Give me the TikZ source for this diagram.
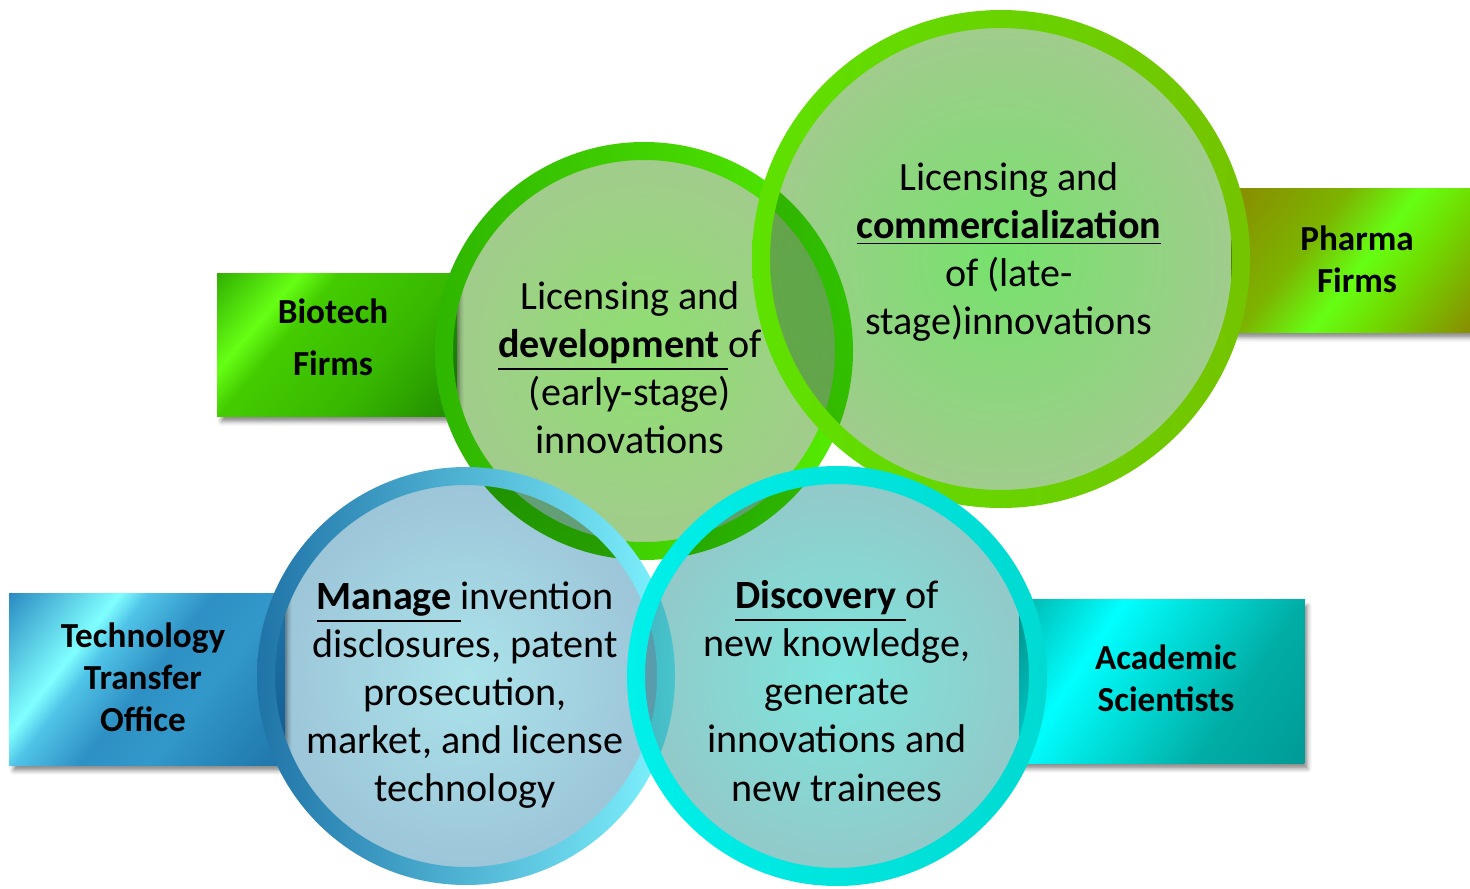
\documentclass[tikz,border=0pt]{standalone}
\usepackage{fontspec}
\setmainfont{Carlito}
\usetikzlibrary{shadows.blur}

% bubble colours
\definecolor{devIn}{HTML}{8EDF70}
\definecolor{devOut}{HTML}{A3CB8E}
\definecolor{devRingA}{HTML}{2EB600}
\definecolor{devRingB}{HTML}{55EC00}
\definecolor{comIn}{HTML}{76E26C}
\definecolor{comOut}{HTML}{A2CB8E}
\definecolor{comRingA}{HTML}{5EE200}
\definecolor{comRingB}{HTML}{74C400}
\definecolor{manIn}{HTML}{ABE3EA}
\definecolor{manOut}{HTML}{9CC4D8}
\definecolor{manRingA}{HTML}{2074A8}
\definecolor{manRingB}{HTML}{80F4FF}
\definecolor{disIn}{HTML}{7EE6DE}
\definecolor{disOut}{HTML}{92C8C8}
\definecolor{disRingA}{HTML}{00F0EA}
\definecolor{disRingB}{HTML}{00DAD2}

% firm box colours
\definecolor{bioA}{HTML}{30AC00}
\definecolor{bioB}{HTML}{66FF14}
\definecolor{bioC}{HTML}{44CC00}
\definecolor{bioD}{HTML}{38B800}
\definecolor{bioE}{HTML}{1F8A00}
\definecolor{phaA}{HTML}{8A8A00}
\definecolor{phaB}{HTML}{7CB400}
\definecolor{phaC}{HTML}{66FF14}
\definecolor{phaD}{HTML}{70DC00}
\definecolor{ttoA}{HTML}{2A8AC2}
\definecolor{ttoB}{HTML}{80FFFF}
\definecolor{ttoC}{HTML}{50C4E8}
\definecolor{ttoD}{HTML}{2E90C4}
\definecolor{ttoE}{HTML}{3298CA}
\definecolor{ttoF}{HTML}{1E74A8}
\definecolor{acaA}{HTML}{00B4AC}
\definecolor{acaB}{HTML}{00FFFF}
\definecolor{acaC}{HTML}{00E0DC}
\definecolor{acaD}{HTML}{00AEA6}
\definecolor{acaE}{HTML}{009A96}

\pgfdeclarehorizontalshading{bioShade}{100bp}{color(0bp)=(bioA); color(25bp)=(bioA); color(36.7bp)=(bioB); color(42bp)=(bioC); color(58bp)=(bioD); color(75bp)=(bioE); color(100bp)=(bioE)}
\pgfdeclarehorizontalshading{phaShade}{100bp}{color(0bp)=(phaA); color(25bp)=(phaA); color(42bp)=(phaB); color(52bp)=(phaC); color(60bp)=(phaD); color(75bp)=(phaA); color(100bp)=(phaA)}
\pgfdeclarehorizontalshading{ttoShade}{100bp}{color(0bp)=(ttoA); color(25bp)=(ttoA); color(38.5bp)=(ttoB); color(42bp)=(ttoC); color(50bp)=(ttoD); color(58bp)=(ttoE); color(75bp)=(ttoF); color(100bp)=(ttoF)}
\pgfdeclarehorizontalshading{acaShade}{100bp}{color(0bp)=(acaA); color(25bp)=(acaA); color(38.4bp)=(acaB); color(47bp)=(acaC); color(61bp)=(acaD); color(75bp)=(acaE); color(100bp)=(acaE)}

\begin{document}
\begin{tikzpicture}[x=0.01cm, y=-0.01cm,
    firm/.style={rectangle, inner sep=0pt, fill=white,
        blur shadow={shadow xshift=1pt, shadow yshift=-1.6pt, shadow blur radius=1.2pt, shadow opacity=45}},
    firmtext/.style={align=center, inner sep=0pt, font=\fontsize{10}{11.95}\selectfont\bfseries},
    bubtext/.style={align=center, inner sep=0pt, font=\fontsize{11.4}{13.66}\selectfont}]
\useasboundingbox (0,0) rectangle (1470,888);

%%%%%%%%%%%%%%%%%%%% Firm boxes %%%%%%%%%%%%%%%%%%%%
\node[firm, minimum width=2.38cm, minimum height=1.42cm] (bio) at (337,345) {};
\node[firm, minimum width=2.38cm, minimum height=1.43cm] (pha) at (1351,260.5) {};
\node[firm, minimum width=2.74cm, minimum height=1.71cm] (tto) at (147,679.5) {};
\node[firm, minimum width=2.84cm, minimum height=1.63cm] (aca) at (1162,681.5) {};

% diagonal sheen
\foreach \f/\ang/\L in {bio/-40.5/140, pha/-37.6/140, tto/-38.4/162, aca/-33.7/164}
{
    \begin{scope}
        \clip (\f.south west) rectangle (\f.north east);
        \begin{scope}[transform canvas={rotate around={\ang:(\f.center)}}]
            \shade[shading=\f Shade] ([shift={(-\L,-\L)}]\f.center) rectangle ([shift={(\L,\L)}]\f.center);
        \end{scope}
    \end{scope}
}

%%%%%%%%%%%%%%%%%%%% Bubbles %%%%%%%%%%%%%%%%%%%%
\foreach \bub/\x/\y/\r in {dev/644/351/209, com/1001/259/249, man/466/676/209, dis/837/676/210}
{
    \coordinate (\bub) at (\x,\y);
    \shade[blend mode=multiply, inner color=\bub In, outer color=\bub Out] (\bub) circle[radius=\r-9];
    \shade[even odd rule, left color=\bub RingA, right color=\bub RingB] (\bub) circle[radius=\r] circle[radius=\r-18];
}

%%%%%%%%%%%%%%%%%%%% Texts %%%%%%%%%%%%%%%%%%%%
\node[bubtext] (devtext) at (630,368) {Licensing and\\ \underline{\textbf{development}\ }of\\ (early-stage)\\ innovations};
\node[bubtext] (comtext) at (1009,252) {Licensing and\\ \underline{\textbf{commercialization}}\\ of (late-\\ stage)innovations};
\node[bubtext] (mantext) at (465,695) {\underline{\textbf{Manage}\ }invention\\ disclosures, patent\\ prosecution,\\ market, and license\\ technology};
\node[bubtext] (distext) at (837,691) {\underline{\textbf{Discovery}\ }of\\ new knowledge,\\ generate\\ innovations and\\ new trainees};

\node[firmtext] (biotext) at (333,337) {Biotech\\[1mm]Firms};
\node[firmtext] (phatext) at (1357,259.5) {Pharma\\Firms};
\node[firmtext] (ttotext) at (143,677) {Technology\\Transfer\\Office};
\node[firmtext] (acatext) at (1166,678) {Academic\\Scientists};

\end{tikzpicture}
\end{document}
